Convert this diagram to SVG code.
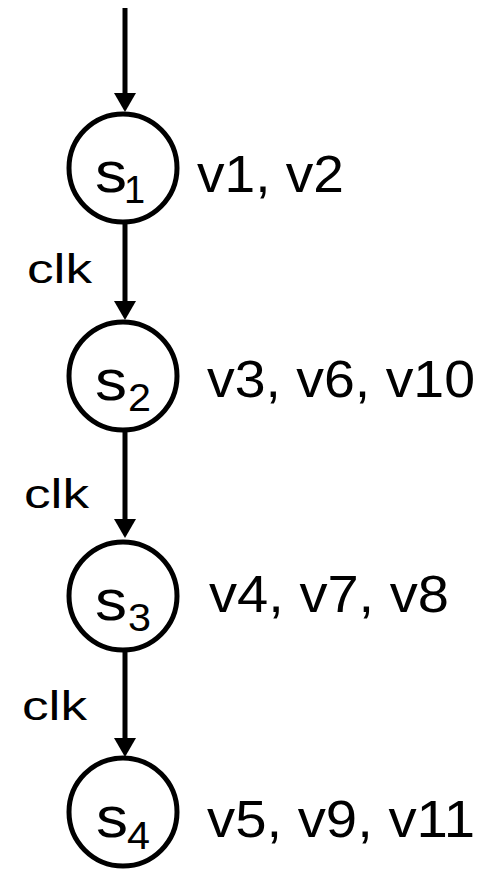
<svg xmlns="http://www.w3.org/2000/svg" width="496" height="869" viewBox="0 0 496 869">
  <style>
    .state { fill: #ffffff; stroke: #000000; stroke-width: 5; }
    .edge { fill: none; stroke: #000000; stroke-width: 5; }
    .lbl { font-family: "Liberation Sans", Arial, Helvetica, sans-serif; fill: #000000; }
    .name { font-size: 58px; }
    .sub { font-size: 38px; }
    .vars { font-size: 51px; }
    .clk { font-size: 40px; }
  </style>
  <defs>
    <marker id="head" markerUnits="userSpaceOnUse" markerWidth="19" markerHeight="22" refX="2" refY="11" orient="auto">
      <path d="M0,0 L19,11 L0,22 z" fill="#000000"/>
    </marker>
  </defs>

  <!-- transitions -->
  <g id="connectors">
    <line class="edge" x1="125" y1="8" x2="125" y2="95" marker-end="url(#head)"/>
    <line class="edge" x1="125" y1="222" x2="125" y2="303" marker-end="url(#head)"/>
    <text class="lbl clk" x="27" y="283" textLength="65" lengthAdjust="spacingAndGlyphs">clk</text>
    <line class="edge" x1="125" y1="430" x2="125" y2="521" marker-end="url(#head)"/>
    <text class="lbl clk" x="24" y="508" textLength="65" lengthAdjust="spacingAndGlyphs">clk</text>
    <line class="edge" x1="125" y1="650" x2="125" y2="740" marker-end="url(#head)"/>
    <text class="lbl clk" x="22" y="720" textLength="65" lengthAdjust="spacingAndGlyphs">clk</text>
  </g>

  <!-- states -->
  <g id="s1">
    <circle class="state" cx="123" cy="168" r="54"/>
    <text class="lbl name" x="95" y="192" textLength="32" lengthAdjust="spacingAndGlyphs">s</text>
    <text class="lbl sub" x="124" y="203">1</text>
    <text class="lbl vars" x="197" y="192" textLength="147" lengthAdjust="spacingAndGlyphs">v1, v2</text>
  </g>
  <g id="s2">
    <circle class="state" cx="123" cy="376" r="54"/>
    <text class="lbl name" x="95" y="400" textLength="32" lengthAdjust="spacingAndGlyphs">s</text>
    <text class="lbl sub" x="128" y="411" textLength="23" lengthAdjust="spacingAndGlyphs">2</text>
    <text class="lbl vars" x="207" y="397" textLength="268" lengthAdjust="spacingAndGlyphs">v3, v6, v10</text>
  </g>
  <g id="s3">
    <circle class="state" cx="123" cy="596" r="54"/>
    <text class="lbl name" x="95" y="620" textLength="32" lengthAdjust="spacingAndGlyphs">s</text>
    <text class="lbl sub" x="128" y="631" textLength="23" lengthAdjust="spacingAndGlyphs">3</text>
    <text class="lbl vars" x="209" y="612" textLength="240" lengthAdjust="spacingAndGlyphs">v4, v7, v8</text>
  </g>
  <g id="s4">
    <circle class="state" cx="123" cy="812" r="54"/>
    <text class="lbl name" x="96" y="837" textLength="32" lengthAdjust="spacingAndGlyphs">s</text>
    <text class="lbl sub" x="127" y="849" textLength="23" lengthAdjust="spacingAndGlyphs">4</text>
    <text class="lbl vars" x="207" y="837" textLength="268" lengthAdjust="spacingAndGlyphs">v5, v9, v11</text>
  </g>
</svg>
